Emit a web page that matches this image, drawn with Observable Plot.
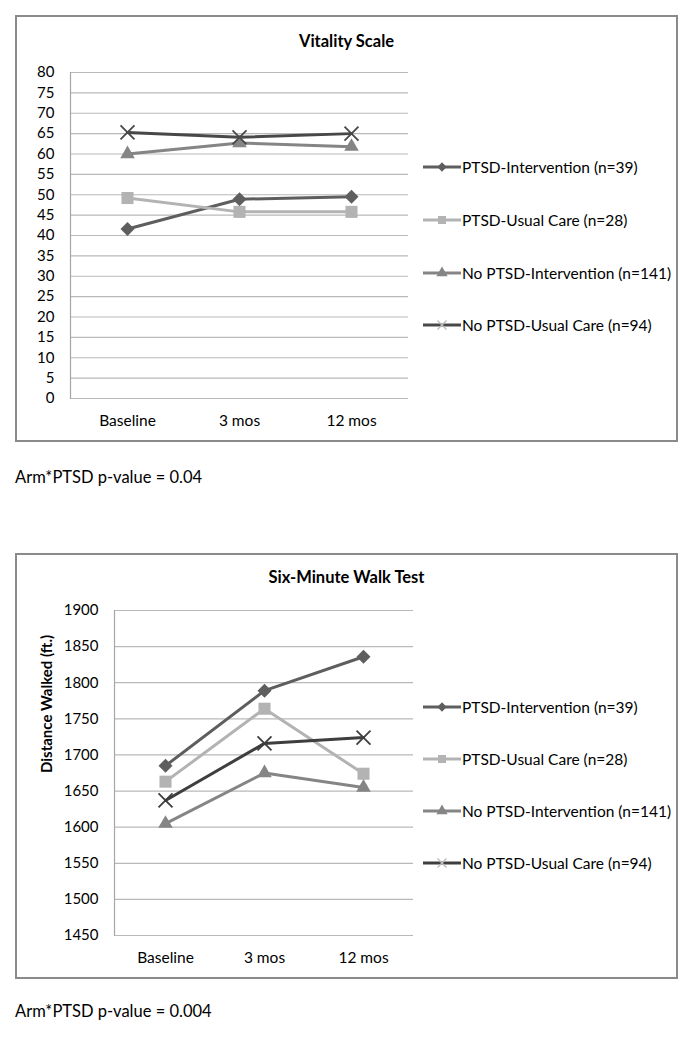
<!DOCTYPE html>
<html><head><meta charset="utf-8">
<script src="https://cdn.jsdelivr.net/npm/d3@7"></script>
<script src="https://cdn.jsdelivr.net/npm/@observablehq/plot@0.6"></script>
<style>
body{margin:0;background:#fff;font-family:Lato,"Open Sans",sans-serif;color:#000;}
#page{position:relative;width:694px;height:1038px;overflow:hidden;}
.box{position:absolute;left:15px;width:663px;box-sizing:border-box;border:2px solid #8a8a8a;}
.abs{position:absolute;}
.title{font-weight:bold;font-size:16.5px;line-height:20px;text-align:center;left:15px;width:663px;}
.caption{font-size:16.5px;line-height:20px;left:15px;}
.leg{display:flex;align-items:center;font-size:15.5px;line-height:18px;height:18px;white-space:nowrap;}
</style></head>
<body><div id="page"></div>
<script>
const timepoints = ["Baseline", "3 mos", "12 mos"];
const groups = ["PTSD-Intervention (n=39)", "PTSD-Usual Care (n=28)", "No PTSD-Intervention (n=141)", "No PTSD-Usual Care (n=94)"];

const vitalityPtsdInt   = [41.6, 48.9, 49.5];
const vitalityPtsdUC    = [49.2, 45.8, 45.8];
const vitalityNoPtsdInt = [60.0, 62.7, 61.8];
const vitalityNoPtsdUC  = [65.3, 64.1, 65.0];
const vitalityTicks = [0,5,10,15,20,25,30,35,40,45,50,55,60,65,70,75,80];

const walkPtsdInt   = [1685, 1789, 1836];
const walkPtsdUC    = [1663, 1764, 1674];
const walkNoPtsdInt = [1605, 1675, 1655];
const walkNoPtsdUC  = [1637, 1716, 1724];
const walkTicks = [1450,1500,1550,1600,1650,1700,1750,1800,1850,1900];

const titles = ["Vitality Scale", "Six-Minute Walk Test"];
const captions = ["Arm*PTSD p-value = 0.04", "Arm*PTSD p-value = 0.004"];
const yLabels = [null, "Distance Walked (ft.)"];

const styles = [
  {color: "#5e5e5e", symbol: "diamond2", r: 6.3, kind: "fill"},
  {color: "#b3b3b3", symbol: "square", r: 6.8, kind: "fill"},
  {color: "#858585", symbol: "triangle", r: 5.4, kind: "fill"},
  {color: "#484848", symbol: "times", r: 6.4, kind: "stroke"}
];

const charts = [
  {series: [vitalityPtsdInt, vitalityPtsdUC, vitalityNoPtsdInt, vitalityNoPtsdUC], ticks: vitalityTicks,
   top: 15, height: 427, margin: {left: 55, right: 270, top: 57, bottom: 44},
   titleTop: 31, legendTop: 158, legendStep: 52.8, captionTop: 467, lineDark: "#484848"},
  {series: [walkPtsdInt, walkPtsdUC, walkNoPtsdInt, walkNoPtsdUC], ticks: walkTicks,
   top: 553, height: 426, margin: {left: 99, right: 265, top: 57, bottom: 44},
   titleTop: 567, legendTop: 698, legendStep: 52, captionTop: 1001, lineDark: "#3e3e3e"}
];

const page = document.getElementById("page");

charts.forEach((c, ci) => {
  const box = document.createElement("div");
  box.className = "box";
  box.style.top = c.top + "px";
  box.style.height = c.height + "px";
  page.appendChild(box);

  const rows = [];
  c.series.forEach((vals, si) => vals.forEach((v, ti) => rows.push({group: groups[si], si, t: timepoints[ti], v})));

  const marks = [
    Plot.gridY(c.ticks, {stroke: "#b9b9b9", strokeOpacity: 1, strokeWidth: 1.2}),
    Plot.frame({anchor: "left", stroke: "#a6a6a6", strokeWidth: 1.2}),
    Plot.axisX({tickSize: 0, tickPadding: 16, label: null, fontSize: 15.5}),
    Plot.axisY({ticks: c.ticks, tickSize: 0, tickPadding: 16, label: null, fontSize: 15, tickFormat: d => String(d)})
  ];
  if (yLabels[ci]) {
    marks.push(Plot.text([yLabels[ci]], {frameAnchor: "left", rotate: -90, dx: -67, fontWeight: "bold", fontSize: 15, text: d => d}));
  }
  styles.forEach((s, si) => {
    const d = rows.filter(r => r.si === si);
    const col = si === 3 ? c.lineDark : s.color;
    marks.push(Plot.line(d, {x: "t", y: "v", stroke: col, strokeWidth: 3}));
  });
  styles.forEach((s, si) => {
    const d = rows.filter(r => r.si === si);
    const col = si === 3 ? c.lineDark : s.color;
    if (s.kind === "fill") marks.push(Plot.dot(d, {x: "t", y: "v", symbol: s.symbol, r: s.r, fill: col, stroke: "none"}));
    else marks.push(Plot.dot(d, {x: "t", y: "v", symbol: s.symbol, r: s.r, fill: "none", stroke: col, strokeWidth: 1.8}));
  });

  const svg = Plot.plot({
    width: 663, height: c.height,
    marginLeft: c.margin.left, marginRight: c.margin.right, marginTop: c.margin.top, marginBottom: c.margin.bottom,
    x: {type: "point", domain: timepoints, padding: 0.5},
    y: {domain: [c.ticks[0], c.ticks[c.ticks.length - 1]]},
    style: {fontFamily: "Lato, 'Open Sans', sans-serif", fontSize: "15px", color: "#000", background: "transparent"},
    marks
  });
  svg.classList.add("abs");
  svg.style.left = "15px";
  svg.style.top = c.top + "px";
  page.appendChild(svg);

  const t = document.createElement("div");
  t.className = "abs title";
  t.style.top = c.titleTop + "px";
  t.textContent = titles[ci];
  page.appendChild(t);

  groups.forEach((g, si) => {
    const s = styles[si];
    const col = si === 3 ? c.lineDark : s.color;
    const item = document.createElement("div");
    item.className = "abs leg";
    item.style.left = "423px";
    item.style.top = (c.legendTop + si * c.legendStep) + "px";
    const sw = d3.create("svg").attr("width", 38).attr("height", 18).style("margin-right", "1px");
    sw.append("line").attr("x1", 0).attr("x2", 38).attr("y1", 9).attr("y2", 9).attr("stroke", col).attr("stroke-width", 3);
    const sym = {diamond2: d3.symbolDiamond2, square: d3.symbolSquare, triangle: d3.symbolTriangle, times: d3.symbolTimes}[s.symbol];
    const path = sw.append("path").attr("transform", "translate(19,9)").attr("d", d3.symbol(sym, si === 1 ? 64 : 55)());
    if (s.kind === "fill") path.attr("fill", col); else path.attr("fill", "none").attr("stroke", "#bbbbbb").attr("stroke-width", 1.3);
    item.appendChild(sw.node());
    const span = document.createElement("span");
    span.textContent = g;
    item.appendChild(span);
    page.appendChild(item);
  });

  const cap = document.createElement("div");
  cap.className = "abs caption";
  cap.style.top = c.captionTop + "px";
  cap.textContent = captions[ci];
  page.appendChild(cap);
});
</script></body></html>
